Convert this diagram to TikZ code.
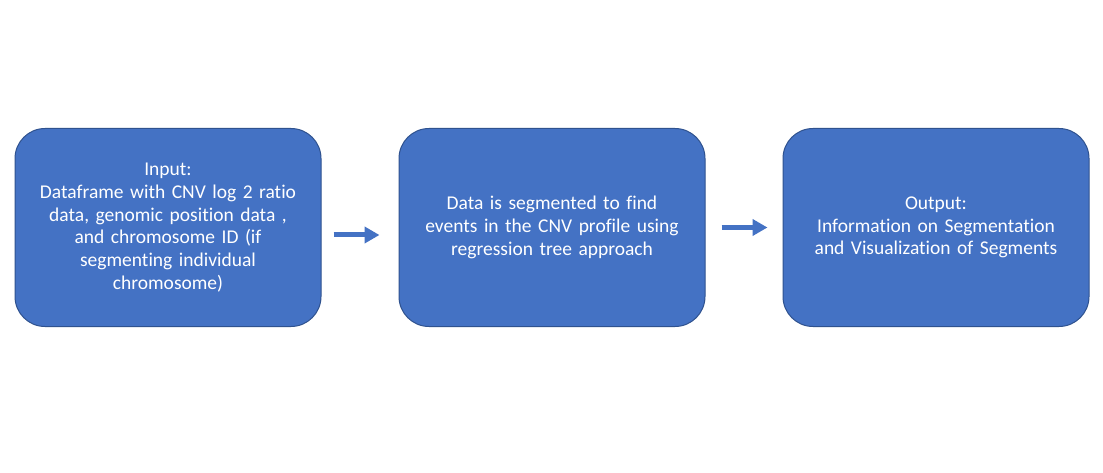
\documentclass[tikz,border=0pt]{standalone}
\usepackage{fontspec}
\setmainfont{Carlito}[Ligatures={NoCommon}]
\usetikzlibrary{arrows.meta}
\definecolor{boxblue}{HTML}{4472C4}
\definecolor{boxedge}{HTML}{2F528F}
\begin{document}
\begin{tikzpicture}[x=1pt,y=-1pt,
  stagebox/.style={draw=boxedge, line width=1pt, fill=boxblue, rounded corners=30pt,
    minimum width=306pt, minimum height=198pt, text=white, align=center,
    font=\fontsize{19.5pt}{22.7pt}\selectfont, inner sep=0pt, text width=295pt},
  flowarrow/.style={draw=boxblue, line width=5pt, -{Triangle[length=15pt,width=16pt]}}]
\useasboundingbox[fill=white] (0,0) rectangle (1103,473);
\node[stagebox] (in) at (168,227.5) {Input:\\Dataframe with CNV log 2 ratio\\data, genomic position data ,\\and chromosome ID (if\\segmenting individual\\chromosome)};
\node[stagebox] (seg) at (552,227.5) {Data is segmented to find\\events in the CNV profile using\\regression tree approach};
\node[stagebox] (out) at (936,227.5) {Output:\\Information on Segmentation\\and Visualization of Segments};
\draw[flowarrow, shorten <=12pt, shorten >=19pt] ([yshift=-7.5pt]in.east) -- ([yshift=-7.5pt]seg.west);
\draw[flowarrow, shorten <=16pt, shorten >=15pt] (seg.east) -- (out.west);
\end{tikzpicture}
\end{document}
